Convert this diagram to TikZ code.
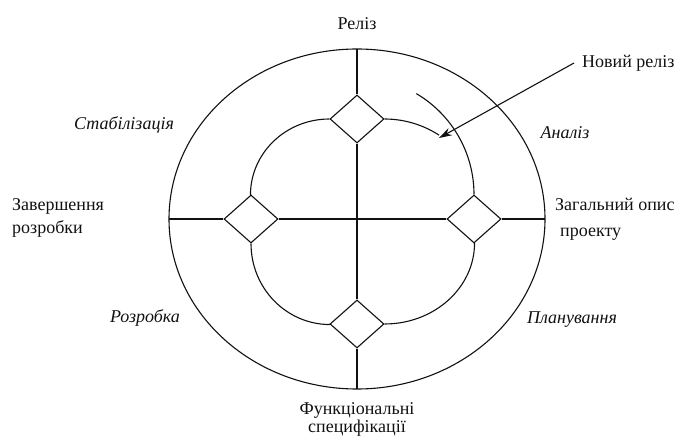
\documentclass[tikz,border=0pt]{standalone}
\usepackage{fontspec}
\setmainfont{Liberation Serif}
\usepackage{tikz}
\usetikzlibrary{arrows.meta,shapes.geometric}
\definecolor{ink}{HTML}{111111}
\tikzset{
  phase/.style={shape=diamond,draw=ink,fill=white,line width=1.1pt,
                minimum width=54pt,minimum height=48pt,inner sep=0pt},
  ring/.style={draw=ink,line width=1.1pt},
  milestone/.style={font=\fontsize{18}{23}\selectfont,text=ink,
                    align=left,inner sep=0pt},
  stage/.style={font=\fontsize{18}{20}\selectfont\itshape,text=ink,
                inner sep=0pt},
  arrowrel/.style={-{Stealth[length=13pt,width=8pt]},line width=1.1pt,ink},
}

\begin{document}
\begin{tikzpicture}[x=1pt,y=1pt]
  \useasboundingbox (0,0) rectangle (681,437);
  % outer ring and its four ends
  \coordinate (o) at (357,218);
  \draw[ring] (o) ellipse[x radius=188,y radius=170];
  \coordinate (top) at (357,388);
  \coordinate (bot) at (357,48);
  \coordinate (lft) at (169,218);
  \coordinate (rgt) at (545,218);
  % milestones
  \node[phase] (dtop) at (357,318) {};
  \node[phase] (dlft) at (251,218) {};
  \node[phase] (drgt) at (474,218) {};
  \node[phase] (dbot) at (357,113) {};
  \draw[ring] (top)--(dtop.north) (dtop.south)--(dbot.north) (dbot.south)--(bot);
  \draw[ring] (lft)--(dlft.west) (dlft.east)--(drgt.west) (drgt.east)--(rgt);
  % inner spiral
  \draw[ring] (dtop.west) arc[start angle=90,end angle=180,x radius=79,y radius=76];
  \draw[ring] (dlft.south) arc[start angle=180,end angle=270,x radius=79,y radius=81];
  \draw[ring] (dbot.east) arc[start angle=270,end angle=360,x radius=90,y radius=81];
  \draw[ring] (drgt.north) arc[start angle=0,end angle=59.5,radius=117];
  \draw[ring] (dtop.east) arc[start angle=90,end angle=57,radius=100];
  % labels
  \node[milestone] (release) at (357,413) {Реліз};
  \node[milestone,anchor=west,inner xsep=8pt] (newrel) at (574,374) {Новий реліз};
  \coordinate (tip) at (439,299);
  \draw[arrowrel] (newrel.west)--(tip);
  \node[milestone,anchor=west] (overview) at (555,218) {Загальний опис\\[3pt]\hspace{5pt}проекту};
  \node[milestone,anchor=west] (finish) at (12,219) {Завершення\\розробки};
  \node[milestone,align=center] (spec) at (357,18) {Функціональні\\[-5pt]специфікації};
  \node[stage] (analysis) at (565,304) {Аналіз};
  \node[stage] (stabil) at (124,312) {Стабілізація};
  \node[stage] (develop) at (145,119) {Розробка};
  \node[stage] (plan) at (572,117) {Планування};
\end{tikzpicture}
\end{document}
